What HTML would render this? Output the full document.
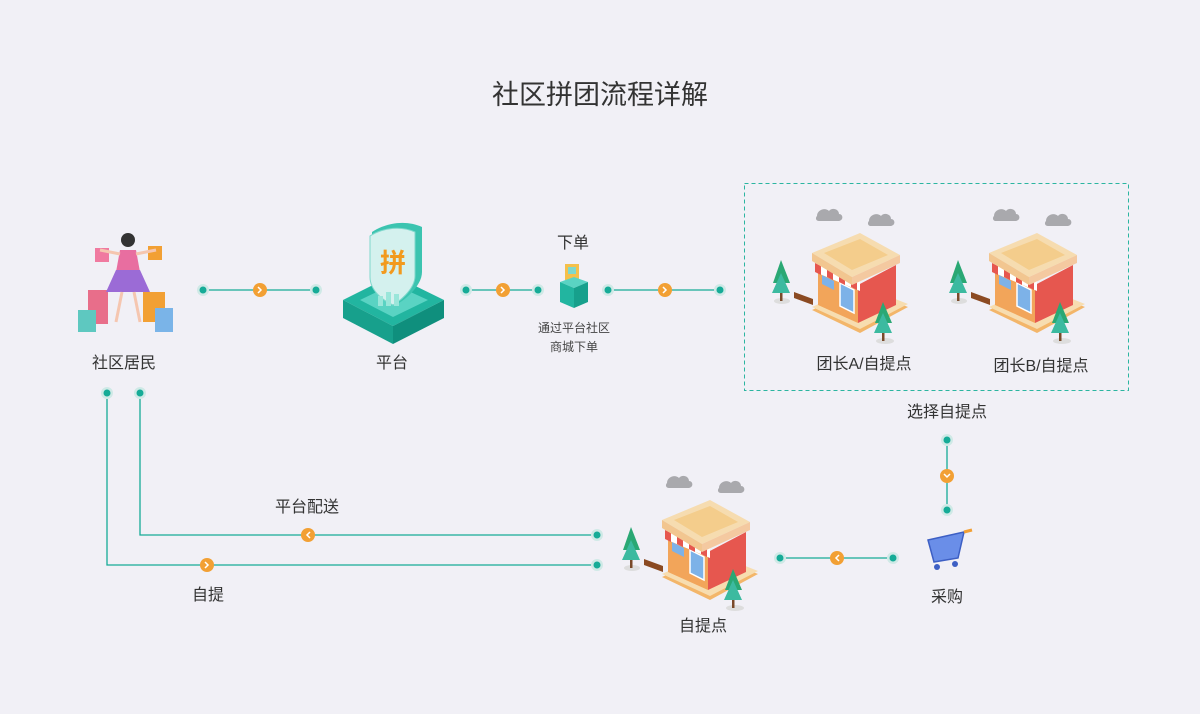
<!DOCTYPE html>
<html><head><meta charset="utf-8"><style>
html,body{margin:0;padding:0;background:#f1f0f6;}
svg{display:block;font-family:"Liberation Sans","Noto Sans CJK SC",sans-serif;}
</style></head><body>
<svg width="1200" height="714" viewBox="0 0 1200 714" xmlns="http://www.w3.org/2000/svg">
<defs>
<g id="dot"><circle r="6" fill="#cfe9e6"/><circle r="3.5" fill="#16ab97"/></g>
<g id="shop">
 <path d="M57,21c0-6 8-9 12-5c3-4 10-2 10,3c4,0 5,6 0,7h-20c-3,0-4-3-2-5z" fill="#a9a9ad"/>
 <path d="M109,26c0-6 8-9 12-5c3-4 10-2 10,3c4,0 5,6 0,7h-20c-3,0-4-3-2-5z" fill="#a9a9ad"/>
 <polygon points="52,115 100,93 148,112 100,138" fill="#f3b66a"/>
 <polygon points="52,112 100,90 148,109 100,134" fill="#f7ddb0"/>
 <polygon points="58,70 98,90 98,128 58,110" fill="#f2a55a"/>
 <polygon points="98,90 136,70 136,110 98,128" fill="#e6574f"/>
 <polygon points="80,88 94,95 94,118 80,111" fill="#7db2e8" stroke="#fff" stroke-width="1.5"/>
 <polygon points="62,80 74,86 74,95 62,89" fill="#7db2e8"/>
 <polygon points="55,68 100,86 100,96 55,77" fill="#fff"/>
 <path d="M55,68l6,3v9l-6,-3zM67,73l6,3v9l-6,-3zM79,78l6,3v9l-6,-3zM91,83l6,3v9l-6,-3z" fill="#e6574f"/>
 <polygon points="52,58 100,38 140,60 92,82" fill="#f6dcb0"/>
 <polygon points="52,58 92,82 92,90 52,66" fill="#f2c690"/>
 <polygon points="92,82 140,60 140,68 92,90" fill="#f4c9a0"/>
 <polygon points="64,58 100,44 128,60 92,75" fill="#f4cd8c"/>
 <polygon points="34,97 53,104 53,110 34,103" fill="#8b4a22"/>
 <ellipse cx="22" cy="106" rx="8" ry="3" fill="#ddd"/>
 <rect x="20" y="90" width="2.5" height="16" fill="#7a4a2a"/>
 <polygon points="21,65 13,88 30,88" fill="#2aa874"/>
 <polygon points="21,78 12,98 30,98" fill="#3cbaa0"/>
 <ellipse cx="125" cy="146" rx="9" ry="3" fill="#ddd"/>
 <rect x="122" y="130" width="2.5" height="16" fill="#7a4a2a"/>
 <polygon points="123,107 115,128 132,128" fill="#2aa874"/>
 <polygon points="123,118 114,138 132,138" fill="#3cbaa0"/>
</g>
</defs>

<text x="600" y="104" font-size="27" fill="#333" text-anchor="middle">社区拼团流程详解</text>

<!-- dashed box -->
<rect x="744.5" y="183.5" width="384" height="207" fill="none" stroke="#2bb5a0" stroke-dasharray="4,3"/>

<!-- connectors -->
<g stroke="#16ab97" stroke-width="1.3" fill="none">
 <line x1="203" y1="290" x2="316" y2="290"/>
 <line x1="466" y1="290" x2="538" y2="290"/>
 <line x1="608" y1="290" x2="720" y2="290"/>
 <polyline points="107,393 107,565 597,565"/>
 <polyline points="140,393 140,535 597,535"/>
 <line x1="947" y1="440" x2="947" y2="510"/>
 <line x1="780" y1="558" x2="893" y2="558"/>
</g>
<g>
 <use href="#dot" x="203" y="290"/><use href="#dot" x="316" y="290"/>
 <use href="#dot" x="466" y="290"/><use href="#dot" x="538" y="290"/>
 <use href="#dot" x="608" y="290"/><use href="#dot" x="720" y="290"/>
 <use href="#dot" x="107" y="393"/><use href="#dot" x="140" y="393"/>
 <use href="#dot" x="597" y="535"/><use href="#dot" x="597" y="565"/>
 <use href="#dot" x="947" y="440"/><use href="#dot" x="947" y="510"/>
 <use href="#dot" x="780" y="558"/><use href="#dot" x="893" y="558"/>
</g>
<g fill="#f2a034">
 <circle cx="260" cy="290" r="7"/><circle cx="503" cy="290" r="7"/><circle cx="665" cy="290" r="7"/>
 <circle cx="308" cy="535" r="7"/><circle cx="207" cy="565" r="7"/>
 <circle cx="947" cy="476" r="7"/><circle cx="837" cy="558" r="7"/>
</g>
<g stroke="#fff" stroke-width="1.5" fill="none">
 <polyline points="258,287 261,290 258,293"/><polyline points="501,287 504,290 501,293"/><polyline points="663,287 666,290 663,293"/>
 <polyline points="310,532 307,535 310,538"/><polyline points="205,562 208,565 205,568"/>
 <polyline points="944,474 947,477 950,474"/><polyline points="839,555 836,558 839,561"/>
</g>

<!-- resident illustration -->
<g>
 <rect x="88" y="290" width="20" height="34" fill="#e86e8a"/>
 <rect x="78" y="310" width="18" height="22" fill="#5ec8c0"/>
 <rect x="143" y="292" width="22" height="30" fill="#f2a034"/>
 <rect x="155" y="308" width="18" height="24" fill="#7ab4e8"/>
 <rect x="95" y="248" width="14" height="14" fill="#f07aa0"/>
 <rect x="148" y="246" width="14" height="14" fill="#f2a034"/>
 <circle cx="128" cy="240" r="7" fill="#333"/>
 <polygon points="120,250 136,250 140,272 116,272" fill="#e86ea0"/>
 <polygon points="116,270 140,270 150,292 106,292" fill="#9b6bd6"/>
 <line x1="122" y1="292" x2="116" y2="322" stroke="#f5c6b0" stroke-width="3"/>
 <line x1="134" y1="292" x2="140" y2="322" stroke="#f5c6b0" stroke-width="3"/>
 <line x1="120" y1="254" x2="100" y2="250" stroke="#f5c6b0" stroke-width="3"/>
 <line x1="136" y1="254" x2="156" y2="250" stroke="#f5c6b0" stroke-width="3"/>
</g>
<text x="124" y="368" font-size="16" fill="#333" text-anchor="middle">社区居民</text>

<!-- platform -->
<g>
 <polygon points="343,300 393,275 444,300 393,326" fill="#22b5a0"/>
 <polygon points="343,300 393,326 393,344 343,318" fill="#17a08c"/>
 <polygon points="393,326 444,300 444,318 393,344" fill="#0f8f7d"/>
 <polygon points="360,300 393,284 428,300 393,317" fill="#5ad3c3"/>
 <path d="M372,232c15-10 35-12 50-5v45c0,15-20,30-25,32c-10-4-25-15-25-30z" fill="#3cc4b0"/>
 <path d="M370,236c14-9 32-10 45-4v44c0,14-18,27-22,29c-9-4-23-14-23-28z" fill="#d4f1ee" stroke="#7fd8cc"/>
 <text x="393" y="272" font-size="26" font-weight="bold" fill="#f29a1e" text-anchor="middle">拼</text>
 <rect x="378" y="296" width="5" height="10" fill="#9ae6da"/><rect x="386" y="292" width="5" height="14" fill="#9ae6da"/><rect x="394" y="294" width="5" height="12" fill="#9ae6da"/>
</g>
<text x="392" y="368" font-size="16" fill="#333" text-anchor="middle">平台</text>

<!-- order -->
<text x="573" y="248" font-size="16" fill="#333" text-anchor="middle">下单</text>
<g>
 <rect x="565" y="264" width="14" height="16" fill="#f5c04a"/>
 <rect x="568" y="267" width="8" height="7" fill="#7fd8cc"/>
 <polygon points="560,282 574,277 588,282 574,288" fill="#5ad3c3"/>
 <polygon points="560,282 574,288 574,308 560,302" fill="#22b5a0"/>
 <polygon points="574,288 588,282 588,302 574,308" fill="#17a08c"/>
</g>
<text x="574" y="332" font-size="12" fill="#444" text-anchor="middle">通过平台社区</text>
<text x="574" y="351" font-size="12" fill="#444" text-anchor="middle">商城下单</text>

<!-- shops -->
<use href="#shop" transform="translate(760,195)"/>
<use href="#shop" transform="translate(937,195)"/>
<use href="#shop" transform="translate(610,462)"/>
<text x="864" y="369" font-size="16" fill="#333" text-anchor="middle">团长A/自提点</text>
<text x="1041" y="371" font-size="16" fill="#333" text-anchor="middle">团长B/自提点</text>
<text x="947" y="417" font-size="16" fill="#333" text-anchor="middle">选择自提点</text>
<text x="703" y="631" font-size="16" fill="#333" text-anchor="middle">自提点</text>

<!-- cart -->
<g>
 <polygon points="928,540 964,532 958,558 934,562" fill="#6a8ee8" stroke="#3d5fc4" stroke-width="1.5"/>
 <line x1="964" y1="532" x2="972" y2="530" stroke="#f2a034" stroke-width="3"/>
 <circle cx="937" cy="567" r="3" fill="#3d5fc4"/><circle cx="955" cy="564" r="3" fill="#3d5fc4"/>
</g>
<text x="947" y="602" font-size="16" fill="#333" text-anchor="middle">采购</text>

<text x="307" y="512" font-size="16" fill="#333" text-anchor="middle">平台配送</text>
<text x="208" y="600" font-size="16" fill="#333" text-anchor="middle">自提</text>
</svg>
</body></html>
